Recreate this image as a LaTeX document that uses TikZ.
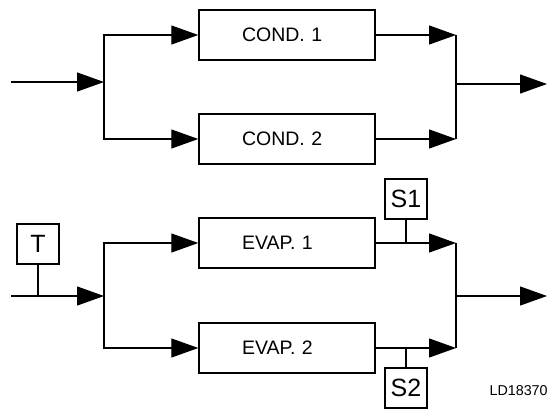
\documentclass[tikz,border=0pt]{standalone}
\usepackage{fontspec}
\setmainfont{Liberation Sans}
\usetikzlibrary{arrows.meta}

\tikzset{
    unitbox/.style={draw, line width=1.4pt, minimum width=176pt, minimum height=50pt,
	text width=90pt, align=left, font=\fontsize{19.5}{23}\selectfont},
    sensbox/.style={draw, line width=1.2pt, minimum width=42pt, minimum height=40pt,
	inner sep=0pt, font=\fontsize{25}{30}\selectfont},
    flow/.style={-{Triangle[length=27pt,width=19pt]}}
}

\begin{document}
\begin{tikzpicture}[x=1pt, y=-1pt, line width=1.2pt]
    \useasboundingbox (0, 0) rectangle (548, 408);

    % condensers
    \node[unitbox] (cond1) at (287, 35) {COND. 1};
    \node[unitbox] (cond2) at (287, 139) {COND. 2};
    \coordinate (cin) at (11, 82);
    \coordinate (csplit) at (104, 82);
    \coordinate (cmerge) at (456, 84);
    \coordinate (cout) at (547, 84);

    \draw[flow] (cin) -- (csplit);
    \draw[flow] (csplit) |- (cond1.west);
    \draw[flow] (csplit) |- (cond2.west);
    \draw[flow] (cond1.east) -- (cond1.east -| cmerge);
    \draw[flow] (cond2.east) -- (cond2.east -| cmerge);
    \draw (cond1.east -| cmerge) -- (cond2.east -| cmerge);
    \draw[flow] (cmerge) -- (cout);

    % evaporators
    \node[unitbox] (evap1) at (287, 243) {EVAP. 1};
    \node[unitbox] (evap2) at (287, 348) {EVAP. 2};
    \node[sensbox] (tsens) at (38, 244) {T};
    \node[sensbox] (s1) at (406, 199) {S1};
    \node[sensbox] (s2) at (406, 388) {S2};
    \coordinate (ein) at (11, 296);
    \coordinate (esplit) at (104, 296);
    \coordinate (emerge) at (456, 296);
    \coordinate (eout) at (547, 296);

    \draw[flow] (ein) -- (esplit);
    \draw (tsens.south) -- (tsens.south |- ein);
    \draw[flow] (esplit) |- (evap1.west);
    \draw[flow] (esplit) |- (evap2.west);
    \draw[flow] (evap1.east) -- (evap1.east -| emerge);
    \draw[flow] (evap2.east) -- (evap2.east -| emerge);
    \draw (s1.south) -- (s1.south |- evap1.east);
    \draw (s2.north) -- (s2.north |- evap2.east);
    \draw (evap1.east -| emerge) -- (evap2.east -| emerge);
    \draw[flow] (emerge) -- (eout);

    \node[anchor=base west, inner sep=0pt, font=\fontsize{14.3}{17}\selectfont]
	(tag) at (489, 395) {LD18370};
\end{tikzpicture}
\end{document}
